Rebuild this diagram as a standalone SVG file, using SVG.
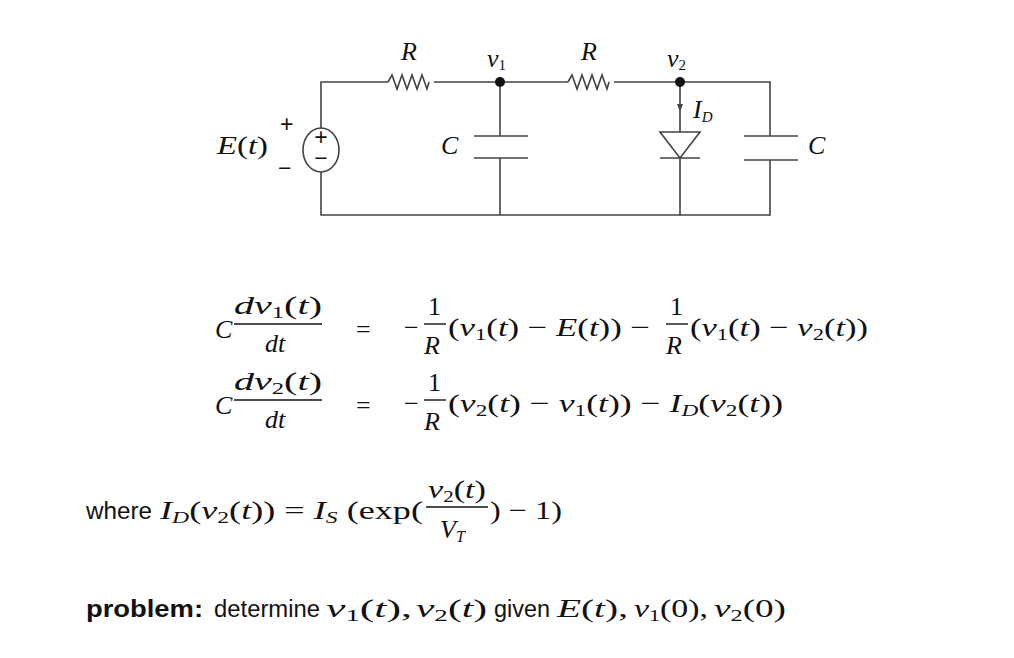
<svg xmlns="http://www.w3.org/2000/svg" width="1014" height="658" viewBox="0 0 1014 658">
<style>
.w{stroke:#444;stroke-width:1.6;fill:none}
.m{font-family:"Liberation Serif",serif;font-style:italic;font-size:26px;fill:#111}
.r{font-family:"Liberation Serif",serif;font-size:26px;fill:#111}
.s{font-family:"Liberation Sans",sans-serif;font-size:23px;fill:#111}
.f{stroke:#111;stroke-width:1.4}
.n{font-style:normal}
</style>
<rect width="1014" height="658" fill="#fff"/>
<g id="connectors">
<path class="w" d="M321,128 V82 H388 M434,82 H568 M614,82 H770 V136 M770,160 V215 H321 V172 M500,82 V136 M500,158 V215 M680,82 V132 M680,158 V215"/>
</g>
<g id="R1"><path class="w" d="M388,82 l4,-7 l5,14 l5,-14 l5,14 l5,-14 l5,14 l5,-14 l5,14 l2,-7"/><text class="m" x="401" y="60" font-size="24">R</text></g>
<g id="R2"><path class="w" d="M568,82 l4,-7 l5,14 l5,-14 l5,14 l5,-14 l5,14 l5,-14 l5,14 l2,-7"/><text class="m" x="581" y="60" font-size="24">R</text></g>
<g id="v1"><circle cx="500" cy="82" r="5" fill="#111"/><text class="m" x="487" y="67" font-size="22">v<tspan class="n" font-size="15" dy="3">1</tspan></text></g>
<g id="v2"><circle cx="680" cy="82" r="5" fill="#111"/><text class="m" x="667" y="67" font-size="22">v<tspan class="n" font-size="15" dy="3">2</tspan></text></g>
<g id="E"><ellipse cx="321" cy="150" rx="18" ry="22" fill="#fff" class="w"/>
<text class="s" x="321" y="145" font-size="12" text-anchor="middle">+</text><text class="s" x="321" y="166" font-size="12" text-anchor="middle">−</text>
<text class="s" x="280" y="132" font-size="13">+</text><text class="s" x="278" y="176" font-size="14">−</text>
<text class="m" x="217" y="154" textLength="51" lengthAdjust="spacingAndGlyphs">E<tspan class="n">(</tspan>t<tspan class="n">)</tspan></text></g>
<g id="C1"><path class="w" d="M474,136 H528 M474,158 H528"/><text class="m" x="441" y="154" font-size="24">C</text></g>
<g id="C2"><path class="w" d="M744,136 H798 M744,160 H798"/><text class="m" x="808" y="154" font-size="24">C</text></g>
<g id="D"><path class="w" d="M660,132 H700 L680,158 Z M660,158 H700"/>
<path d="M677,104 L683,104 L680,112 Z" fill="#444"/>
<text class="m" x="693" y="118" font-size="22">I<tspan font-size="15" dy="4">D</tspan></text></g>
<g id="eq1">
<text class="m" x="215" y="338">C</text>
<text class="m" x="234" y="314" font-size="23" textLength="88" lengthAdjust="spacingAndGlyphs">dv<tspan class="n" font-size="16" dy="4">1</tspan><tspan dy="-4" class="n">(</tspan>t<tspan class="n">)</tspan></text>
<line class="f" x1="234" y1="324" x2="322" y2="324"/>
<text class="m" x="265" y="352" font-size="23">dt</text>
<text class="r" x="356" y="338">=</text>
<text class="r" x="404" y="336">−</text>
<text class="r" x="428" y="315" font-size="22">1</text><line class="f" x1="424" y1="324" x2="446" y2="324"/><text class="m" x="424" y="354" font-size="23">R</text>
<text class="m" x="448" y="336" textLength="202" lengthAdjust="spacingAndGlyphs"><tspan class="n">(</tspan>v<tspan class="n" font-size="17" dy="4">1</tspan><tspan dy="-4" class="n">(</tspan>t<tspan class="n">) − </tspan>E<tspan class="n">(</tspan>t<tspan class="n">)) −</tspan></text>
<text class="r" x="670" y="315" font-size="22">1</text><line class="f" x1="666" y1="324" x2="688" y2="324"/><text class="m" x="666" y="354" font-size="23">R</text>
<text class="m" x="690" y="336" textLength="178" lengthAdjust="spacingAndGlyphs"><tspan class="n">(</tspan>v<tspan class="n" font-size="17" dy="4">1</tspan><tspan dy="-4" class="n">(</tspan>t<tspan class="n">) − </tspan>v<tspan class="n" font-size="17" dy="4">2</tspan><tspan dy="-4" class="n">(</tspan>t<tspan class="n">))</tspan></text>
</g>
<g id="eq2">
<text class="m" x="215" y="414">C</text>
<text class="m" x="234" y="390" font-size="23" textLength="88" lengthAdjust="spacingAndGlyphs">dv<tspan class="n" font-size="16" dy="4">2</tspan><tspan dy="-4" class="n">(</tspan>t<tspan class="n">)</tspan></text>
<line class="f" x1="234" y1="400" x2="322" y2="400"/>
<text class="m" x="265" y="428" font-size="23">dt</text>
<text class="r" x="356" y="414">=</text>
<text class="r" x="404" y="412">−</text>
<text class="r" x="428" y="391" font-size="22">1</text><line class="f" x1="424" y1="400" x2="446" y2="400"/><text class="m" x="424" y="430" font-size="23">R</text>
<text class="m" x="448" y="412" textLength="335" lengthAdjust="spacingAndGlyphs"><tspan class="n">(</tspan>v<tspan class="n" font-size="17" dy="4">2</tspan><tspan dy="-4" class="n">(</tspan>t<tspan class="n">) − </tspan>v<tspan class="n" font-size="17" dy="4">1</tspan><tspan dy="-4" class="n">(</tspan>t<tspan class="n">)) − </tspan>I<tspan font-size="17" dy="4">D</tspan><tspan dy="-4" class="n">(</tspan>v<tspan class="n" font-size="17" dy="4">2</tspan><tspan dy="-4" class="n">(</tspan>t<tspan class="n">))</tspan></text>
</g>
<g id="where">
<text class="s" x="86" y="519" textLength="66" lengthAdjust="spacingAndGlyphs">where</text>
<text class="m" x="160" y="519" textLength="263" lengthAdjust="spacingAndGlyphs">I<tspan font-size="17" dy="4">D</tspan><tspan dy="-4" class="n">(</tspan>v<tspan class="n" font-size="17" dy="4">2</tspan><tspan dy="-4" class="n">(</tspan>t<tspan class="n">)) = </tspan>I<tspan font-size="17" dy="4">S</tspan><tspan dy="-4" class="n"> (exp(</tspan></text>
<text class="m" x="428" y="498" font-size="23" textLength="58" lengthAdjust="spacingAndGlyphs">v<tspan class="n" font-size="16" dy="4">2</tspan><tspan dy="-4" class="n">(</tspan>t<tspan class="n">)</tspan></text>
<line class="f" x1="426" y1="507" x2="488" y2="507"/>
<text class="m" x="440" y="538" font-size="24">V<tspan font-size="16" dy="4">T</tspan></text>
<text class="r" x="490" y="519" textLength="72" lengthAdjust="spacingAndGlyphs">) − 1)</text>
</g>
<g id="problem">
<text class="s" x="86" y="617" font-weight="bold" textLength="117" lengthAdjust="spacingAndGlyphs">problem:</text>
<text class="s" x="214" y="617" textLength="106" lengthAdjust="spacingAndGlyphs">determine</text>
<text class="m" x="326" y="617" textLength="86" lengthAdjust="spacingAndGlyphs">v<tspan class="n" font-size="17" dy="4">1</tspan><tspan dy="-4" class="n">(</tspan>t<tspan class="n">),</tspan></text>
<text class="m" x="416" y="617" textLength="71" lengthAdjust="spacingAndGlyphs">v<tspan class="n" font-size="17" dy="4">2</tspan><tspan dy="-4" class="n">(</tspan>t<tspan class="n">)</tspan></text>
<text class="s" x="494" y="617" textLength="56" lengthAdjust="spacingAndGlyphs">given</text>
<text class="m" x="557" y="617" textLength="71" lengthAdjust="spacingAndGlyphs">E<tspan class="n">(</tspan>t<tspan class="n">),</tspan></text>
<text class="m" x="634" y="617" textLength="74" lengthAdjust="spacingAndGlyphs">v<tspan class="n" font-size="17" dy="4">1</tspan><tspan dy="-4" class="n">(0),</tspan></text>
<text class="m" x="714" y="617" textLength="72" lengthAdjust="spacingAndGlyphs">v<tspan class="n" font-size="17" dy="4">2</tspan><tspan dy="-4" class="n">(0)</tspan></text>
</g>
</svg>
